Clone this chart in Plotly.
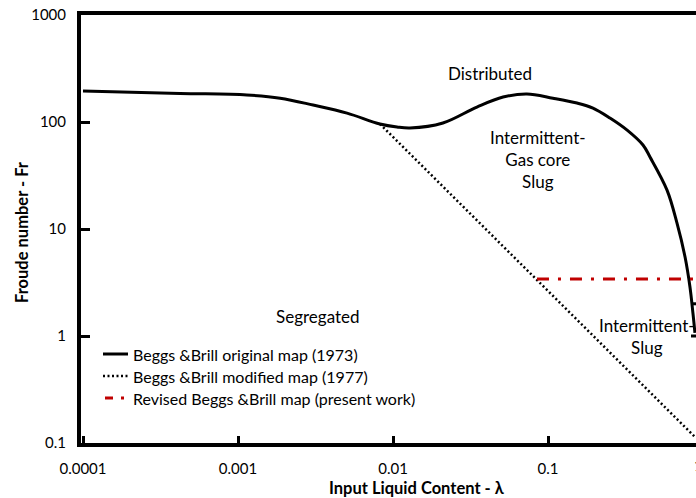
import math
import plotly.graph_objects as go

# Beggs & Brill original flow-pattern boundary (1973)
orig_lambda = [0.0001, 0.000423, 0.00114, 0.00187, 0.00305, 0.00505, 0.00824, 0.01062,
               0.01288, 0.0210, 0.0348, 0.0513, 0.0731, 0.1076, 0.1538, 0.195, 0.251,
               0.324, 0.410, 0.455, 0.586, 0.679, 0.766, 0.824, 0.861, 0.887]
orig_fr = [195, 185, 179, 167, 144, 121, 95.8, 89.8,
           87.9, 97.9, 138, 171, 183, 167, 150.5, 135, 109,
           84, 61, 47.1, 23.1, 11.4, 5.47, 2.87, 1.64, 1.07]

# Beggs & Brill modified boundary (1977)
mod_lambda = [0.00824, 0.887]
mod_fr = [95.8, 0.114]

# Revised boundary (present work)
rev_lambda = [0.0849, 1.0]
rev_fr = [3.41, 3.41]

x_ticks = [0.0001, 0.001, 0.01, 0.1]
x_ticktext = ["0.0001", "0.001", "0.01", "0.1"]
y_ticks = [0.1, 1, 10, 100, 1000]
y_ticktext = ["0.1", "1", "10", "100", "1000"]

legend_names = ["Beggs &Brill original map (1973)",
                "Beggs &Brill modified map (1977)",
                "Revised Beggs &Brill map (present work)"]

FONT = "Lato"
RED = "#c00000"

# pixel geometry of the plotting frame
W, H = 696, 498
L, T, B = 81, 15, 443
PW, PH = W - L, B - T


def px(xp):
    return (xp - L) / PW


def py(yp):
    return (B - yp) / PH


styles = [dict(color="black", width=3),
          dict(color="black", width=2.5, dash="2px,2.5px"),
          dict(color=RED, width=3, dash="12px,9px,3px,9px")]

fig = go.Figure()
fig.add_trace(go.Scatter(x=orig_lambda, y=orig_fr, mode="lines", line_shape="spline",
                         line=styles[0], name=legend_names[0]))
fig.add_trace(go.Scatter(x=mod_lambda, y=mod_fr, mode="lines",
                         line=styles[1], name=legend_names[1]))
fig.add_trace(go.Scatter(x=rev_lambda, y=rev_fr, mode="lines",
                         line=styles[2], name=legend_names[2]))

# region labels
ann_font = dict(family=FONT, size=17, color="black")
regions = [
    (0.0423, 281, "Distributed"),
    (0.0861, 44.2, "Intermittent-<br>Gas core<br>Slug"),
    (0.00328, 1.51, "Segregated"),
    (0.436, 0.98, "Intermittent-<br>Slug"),
]
for lx, fy, txt in regions:
    fig.add_annotation(x=math.log10(lx), y=math.log10(fy), xref="x", yref="y", text=txt,
                       showarrow=False, font=ann_font, xanchor="center", yanchor="middle")

# axis titles
title_font = dict(family=FONT, size=16.5, color="black")
fig.add_annotation(text="<b>Input Liquid Content - λ</b>", xref="paper", yref="paper",
                   x=px(417), y=py(488), showarrow=False, font=title_font,
                   xanchor="center", yanchor="middle")
fig.add_annotation(text="<b>Froude number - Fr</b>", xref="paper", yref="paper",
                   x=px(22), y=py(232), showarrow=False, textangle=-90, font=title_font,
                   xanchor="center", yanchor="middle")

# last x tick label sits at the right frame edge
fig.add_annotation(text="1", xref="paper", yref="paper", x=px(698), y=py(465),
                   showarrow=False, font=dict(family=FONT, size=15, color="black"),
                   xanchor="center", yanchor="middle")

# legend drawn in the lower-left corner of the frame
leg_rows = [354, 376, 398]
leg_font = dict(family=FONT, size=16, color="black")
for i, (name, st) in enumerate(zip(legend_names, styles)):
    yrow = py(leg_rows[i])
    x0, x1 = (px(103), px(128)) if i < 2 else (px(105), px(126))
    ldash = st.get("dash")
    if i == 2:
        ldash = "8px,8px,3px,8px"
    fig.add_shape(type="line", xref="paper", yref="paper", x0=x0, x1=x1, y0=yrow, y1=yrow,
                  line=dict(color=st["color"], width=st["width"], dash=ldash))
    fig.add_annotation(text=name, xref="paper", yref="paper", x=px(131), y=yrow,
                       showarrow=False, font=leg_font, xanchor="left", yanchor="middle")

# short tick marks on the right frame edge
for v in [100, 10, 1]:
    fig.add_shape(type="line", xref="paper", yref="y", x0=px(691), x1=px(696),
                  y0=math.log10(v), y1=math.log10(v), line=dict(color="black", width=3))

x_lo = -2 - (393 - L) / 155
x_hi = -1 + (W - 548) / 155

fig.update_layout(
    width=W, height=H,
    margin=dict(l=L, r=0, t=T, b=H - B),
    plot_bgcolor="white", paper_bgcolor="white",
    font=dict(family=FONT, size=15, color="black"),
    showlegend=False,
)
fig.update_xaxes(type="log", range=[x_lo, x_hi], tickvals=x_ticks, ticktext=x_ticktext,
                 showgrid=False, zeroline=False, showline=True, linecolor="black",
                 linewidth=4, mirror=True, ticks="inside", ticklen=7, tickwidth=3,
                 tickcolor="black", ticklabelstandoff=9)
fig.update_yaxes(type="log", range=[-1, 3], tickvals=y_ticks, ticktext=y_ticktext,
                 showgrid=False, zeroline=False, showline=True, linecolor="black",
                 linewidth=4, ticks="inside", ticklen=9, tickwidth=3,
                 tickcolor="black", ticklabelstandoff=8)

fig.write_html("out.html")
